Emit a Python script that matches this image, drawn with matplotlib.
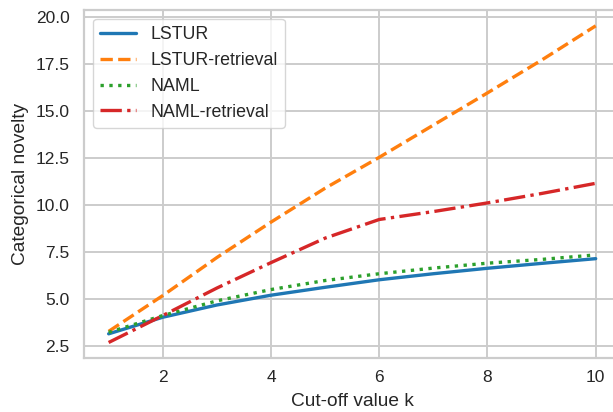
"""Categorical novelty vs cut-off value k for LSTUR / NAML, with and without retrieval."""

import matplotlib

matplotlib.use("Agg")

import matplotlib.pyplot as plt
import seaborn as sns


OUTPUT_PATH = "out.png"
FIG_DPI = 100

CUTOFF_K = [1, 2, 3, 4, 5, 6, 7, 8, 9, 10]

LSTUR = [3.17, 4.05, 4.70, 5.22, 5.64, 6.04, 6.36, 6.65, 6.91, 7.16]
LSTUR_RETRIEVAL = [3.30, 5.20, 7.22, 9.10, 10.90, 12.54, 14.25, 15.96, 17.70, 19.52]
NAML = [3.25, 4.14, 4.92, 5.52, 6.00, 6.36, 6.66, 6.92, 7.12, 7.36]
NAML_RETRIEVAL = [2.71, 4.14, 5.60, 6.95, 8.25, 9.24, 9.66, 10.12, 10.62, 11.16]

SERIES = [
    ("LSTUR", LSTUR, "-", "#1f77b4"),
    ("LSTUR-retrieval", LSTUR_RETRIEVAL, "--", "#ff7f0e"),
    ("NAML", NAML, ":", "#2ca02c"),
    ("NAML-retrieval", NAML_RETRIEVAL, "-.", "#d62728"),
]


def configure_style() -> None:
    """seaborn whitegrid 风格，字体改成 Arial 的替代品。"""
    sns.set_theme(style="whitegrid")
    plt.rcParams["font.family"] = ["Liberation Sans", "DejaVu Sans"]
    plt.rcParams["axes.edgecolor"] = "0.8"
    plt.rcParams["grid.color"] = "0.8"
    plt.rcParams["grid.linewidth"] = 1.4
    plt.rcParams["axes.linewidth"] = 1.6
    plt.rcParams["xtick.major.size"] = 0
    plt.rcParams["ytick.major.size"] = 0
    plt.rcParams["xtick.major.pad"] = 8.4
    plt.rcParams["ytick.major.pad"] = 10.5


def main() -> None:
    configure_style()

    fig = plt.figure(figsize=(6.13, 4.12), dpi=FIG_DPI)
    ax = fig.add_axes([0.1375, 0.1303, 0.874, 0.8454])

    for label, values, style, color in SERIES:
        ax.plot(CUTOFF_K, values, linestyle=style, color=color, linewidth=2.4, label=label)

    ax.set_xticks([2, 4, 6, 8, 10])
    ax.set_yticks([2.5, 5.0, 7.5, 10.0, 12.5, 15.0, 17.5, 20.0])
    ax.tick_params(axis="both", labelsize=12.5, colors="0.15")
    ax.set_xlabel("Cut-off value k", fontsize=13.8, color="0.15", labelpad=6)
    ax.set_ylabel("Categorical novelty", fontsize=13.8, color="0.15", labelpad=5)

    ax.legend(loc="upper left", fontsize=12.8, labelspacing=0.5, frameon=True)

    fig.savefig(OUTPUT_PATH, dpi=FIG_DPI)
    plt.close(fig)


if __name__ == "__main__":
    main()
